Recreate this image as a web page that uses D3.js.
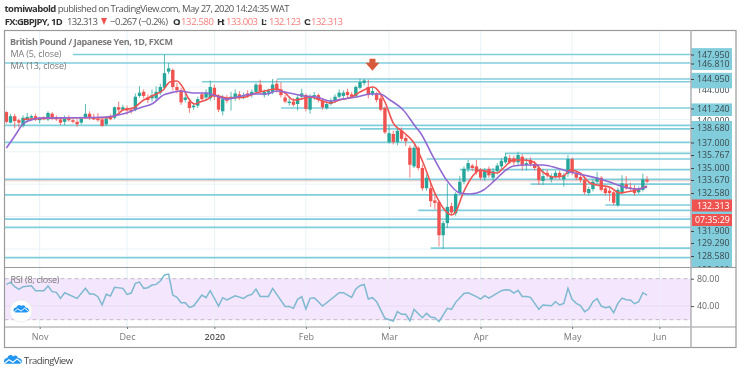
<!DOCTYPE html>
<html><head><meta charset="utf-8">
<script src="https://cdn.jsdelivr.net/npm/d3@7"></script>
<style>
html,body{margin:0;padding:0;background:#fff}
svg{display:block;filter:blur(0.35px)}
text{font-family:"Open Sans",sans-serif}
</style></head><body><svg id="c" width="740" height="373"></svg>
<script>
const opens=[140.9,139.6,140.4,139.9,139.2,139.9,140.2,140.4,139.9,140.2,140.0,140.7,140.2,140.0,139.7,140.1,139.9,139.7,139.6,140.3,140.7,140.2,140.1,140.0,139.4,140.2,140.2,141.5,141.2,141.4,141.2,
141.2,142.9,143.4,142.7,142.6,142.6,143.3,143.9,145.9,146.1,144.0,143.6,142.4,142.2,141.5,141.7,143.1,142.7,142.6,143.9,142.8,141.0,142.6,142.6,142.6,143.1,142.9,143.2,143.0,143.4,144.3,143.0,143.3,143.4,144.4,143.7,142.7,142.1,142.2,141.9,142.8,143.0,141.2,142.9,143.0,142.3,141.4,141.9,142.3,142.8,142.9,143.4,143.1,142.9,143.9,144.5,144.0,
143.1,143.2,142.6,141.4,137.2,138.2,137.2,138.6,137.7,136.5,134.2,136.5,134.0,131.5,131.5,130.0,129.8,125.7,127.2,129.3,128.4,130.9,132.3,133.9,134.3,134.2,133.7,132.8,133.9,132.8,133.6,134.2,134.7,135.2,135.2,134.7,135.4,134.4,135.0,134.5,134.0,132.4,133.4,132.6,132.9,133.4,132.6,133.3,135.1,133.4,132.9,132.5,130.9,131.4,132.3,132.8,131.5,131.2,131.0,129.4,131.0,132.0,131.6,131.5,131.0,131.3,132.58];
const highs=[141.0,140.7,140.7,140.1,140.5,140.8,140.6,140.7,140.3,140.4,141.0,140.9,140.5,140.3,140.5,140.5,140.1,140.0,140.3,141.9,141.0,140.7,140.8,140.3,140.4,140.6,141.6,142.2,141.8,141.7,141.5,
143.2,144.1,143.7,143.1,143.7,144.1,144.4,148.0,146.96,146.3,144.5,143.9,143.3,142.6,142.0,142.8,143.4,143.7,144.8,144.3,143.1,143.0,143.0,143.4,143.7,143.5,143.3,143.6,143.7,144.5,144.9,143.7,143.8,145.0,144.9,144.6,143.0,142.7,142.6,143.0,143.8,143.2,143.1,143.4,143.2,142.6,142.2,142.6,143.1,143.7,143.6,143.8,143.4,144.2,145.0,145.0,144.9,
144.0,143.4,143.0,141.6,139.3,138.6,139.0,139.0,138.0,136.8,136.8,136.7,134.4,133.2,132.1,131.0,130.0,127.5,132.1,129.7,131.0,133.0,134.2,135.0,134.5,135.0,134.0,134.0,134.2,134.0,134.6,135.2,135.9,135.6,135.5,136.0,135.7,135.2,135.3,134.9,134.3,133.9,133.8,133.3,133.7,133.7,133.4,135.6,135.3,133.7,133.2,132.7,131.7,132.6,133.5,133.0,131.8,131.6,131.2,131.6,133.1,133.0,132.2,131.9,131.7,133.3,133.003];
const lows=[139.5,139.5,138.9,139.0,139.0,139.7,140.0,139.8,139.5,139.9,139.8,139.9,139.8,139.3,139.3,139.7,139.5,139.1,139.4,140.1,139.9,139.9,139.7,139.1,139.2,139.9,140.0,140.9,141.0,140.6,140.7,
141.0,142.7,142.6,142.0,142.2,142.3,143.0,143.7,145.6,143.6,143.2,141.8,142.1,140.8,141.2,141.4,142.2,142.3,142.3,142.4,140.9,140.5,142.0,141.1,142.3,142.4,142.5,142.7,142.7,143.1,143.1,142.7,142.9,143.1,143.3,142.7,142.0,141.7,141.6,141.1,142.5,141.0,140.7,142.4,142.1,141.2,141.2,141.7,142.0,142.6,142.6,142.7,142.6,142.7,143.7,144.2,142.6,
142.9,142.1,141.0,138.2,137.0,136.9,136.8,137.3,136.7,132.8,134.0,133.7,131.2,131.2,129.2,128.9,124.3,124.0,126.6,128.2,128.1,130.7,132.0,133.5,133.6,133.2,132.5,132.4,132.8,132.3,133.2,133.9,134.5,134.5,134.3,134.2,133.7,133.7,134.2,133.7,131.9,131.9,132.8,132.2,132.7,132.6,131.7,132.9,133.1,132.5,132.2,130.7,130.6,131.1,132.0,131.1,130.6,129.9,129.4,129.2,130.8,131.3,131.2,130.6,130.8,131.1,132.123];
const closes=[139.7,140.4,139.8,139.6,140.2,140.3,140.4,140.0,140.1,140.1,140.8,140.2,140.0,139.6,140.1,139.9,139.7,139.4,140.1,140.7,140.2,140.0,139.9,139.2,140.1,140.1,141.5,141.2,141.5,141.1,141.0,
142.8,143.3,142.9,142.4,143.0,143.4,144.0,145.7,146.3,144.0,143.6,142.1,142.7,141.4,141.7,142.5,142.5,143.3,144.0,142.8,141.2,142.5,142.3,142.8,143.2,142.7,143.0,142.9,143.4,144.3,143.5,143.4,143.5,144.3,143.6,143.0,142.2,142.2,141.8,142.7,143.2,141.3,142.9,143.0,142.4,141.5,141.9,142.3,142.8,143.3,143.3,143.0,142.8,144.0,144.6,144.8,143.0,
143.5,142.4,141.2,138.4,138.3,137.2,138.6,137.6,137.3,134.4,136.5,134.0,131.5,132.8,129.9,129.7,125.7,127.2,129.2,128.5,130.8,132.3,133.9,134.6,134.0,133.5,132.8,133.7,133.1,133.6,134.3,134.9,135.4,134.7,134.7,135.6,134.4,134.6,134.5,134.0,132.5,133.0,133.1,132.9,133.4,132.9,133.1,135.1,133.4,132.8,132.5,131.0,131.4,132.3,132.8,131.3,130.9,130.9,129.7,131.3,132.1,131.5,131.5,130.9,131.4,132.6,132.313];

const ma5Bars=[4,8,15,24,26.5,28,30.5,33,35,37.7,39.3,41,42.5,43.7,45.3,46.5,48,50,53,57,60,62,65,67,69,71,73,76,78,80,83,85,87,88.2,89.8,91,93,95.4,98,100.2,103,105,107,108,109.8,112.3,113.9,116,118,119.5,121.9,124.3,126.7,129,131.5,133.9,135.5,137.9,140.3,141.9,145,147.5,149,151.5,154];
const ma5Values=[140.0,140.1,140.2,140.2,140.54,141.16,141.41,142.39,142.89,143.63,144.62,144.74,143.88,142.64,141.9,142.15,142.39,143.0,142.64,142.7,143.26,143.5,143.75,143.26,142.39,142.52,142.76,142.27,142.02,142.39,142.76,143.38,143.88,144.0,143.26,142.15,139.55,138.44,137.09,134.62,130.91,129.06,128.2,128.57,130.91,133.14,133.75,133.5,133.38,134.0,134.99,134.99,134.74,133.5,132.89,133.01,133.75,133.38,132.15,131.9,131.65,130.91,131.04,131.28,131.78];
const ma13Bars=[0,2,4,6,8,15,24,25.7,28.9,32,35.3,37.7,39.3,41.7,45,48,50.5,53,55.4,59.4,62.6,65,68,71.4,74.6,77.8,81,84.2,87.4,89.8,92.2,95.4,98.6,99.4,102.6,105.8,109,111.5,114.7,117,119.5,121.9,125,129,132.3,135.5,138.7,141.9,145,148.3,151.5,154];
const ma13Values=[136.47,137.95,139.43,139.93,140.17,140.2,140.3,140.42,140.79,141.41,142.0,143.0,143.26,143.5,143.26,143.26,142.89,142.5,142.76,143.13,143.13,143.5,143.26,142.89,142.76,142.27,142.52,142.76,143.13,143.13,142.39,141.16,138.94,138.44,135.36,132.52,130.91,130.79,131.28,132.27,133.5,134.25,134.37,134.37,134.0,133.5,133.14,132.77,132.27,131.65,131.4,131.65];

const rsiBars=[0,1,2,3,4,6,7,9,10,11,12,13,14,17,19,20,21,22,23,24,25,26,28,29,30,31,32,33,34,35,36,37,38,39,40,41,42,43,44,45,47,48,49,51,52,53,55,57,58,59,60,61,63,64,67,68,69,70,71,72,73,74,76,80,81,83,84,85,86,87,88,89,90,91,93,94,95,96,97,98,100,101,102,103,104,106,107,108,110,111,113,114,115,116,119,120,121,122,123,124,125,126,128,129,131,132,133,134,135,136,137,138,139,140,141,142,143,144,145,146,147,148,149,150,151,152,153,154];
const rsiValues=[71.7,74.6,68.3,64.4,68.3,69.8,62.4,62.4,69.3,61,60,51.2,59.5,51.2,65.9,57.6,57.6,53.7,41.5,57.1,54.6,67.3,65.9,57.1,59,73.2,75.1,65.9,66.8,70.7,71.7,76.6,85.4,86.8,56.1,52.7,44.9,44.9,38,40,56.1,52.2,62.4,40,52.2,48.8,55.1,51.2,55.1,57.1,64.9,54.1,54.1,65.9,39.5,39.5,36.6,49.8,53.7,35.6,51.2,52.2,40,59.5,59.5,52.7,64.9,69.8,71.7,50.2,52.2,46.3,34.1,22,18,31.7,27.8,27.8,18.5,35.1,22.9,29.3,23.9,22.9,17.1,36.6,35.1,45.4,58.5,59.5,53.7,50.2,55.1,51.7,62.4,63.9,63.4,59,62.9,54.1,54.1,52.7,35.1,41.5,40.5,46.3,41.5,43.9,65.9,49.8,43.9,40.5,31.7,35.6,46.3,50.7,40,37.6,39,30.2,43.9,51.7,49.3,48.8,43.4,46.3,59.5,56.1];

const levelPrices=[148.01,146.96,144.99,144.65,141.41,139.27,138.84,137.17,135.81,135.11,133.79,132.59,132.02,130.67,129.43,128.78,127.7,126.68,124.12,122.93];
const levelStartBars=[16,0,65,47,66,0,85,0,120,101,109,0,126,0,144,99,0,0,102,0];

const priceLabels=["147.950","146.810","144.950","141.240","138.680","137.000","135.767","135.000","133.670","132.580","131.900","129.290","128.580"];
const priceLabelAt=[148.01,146.9,144.99,141.35,138.94,137.15,135.6,134.0,132.52,130.91,126.22,124.74,123.13];
const hiddenLabels=["144.000","140.000","122.000"];
const hiddenLabelAt=[143.7,139.85,121.5];
const gridPrices=[144,140,136,132,128,124];
const monthLabels=["Nov","Dec","2020","Feb","Mar","Apr","May","Jun"];
const monthBars=[8,29,50,72,92,114,136,157];
const rsiTicks=[80,40];
const lastPrice=132.313;

const TEAL="#26a69a",RED="#ef5350",LEVEL="#7fcedc",FRAME="#9a9a9a",GRID="#e9f2f6",BOX="#82cddb";
const svg=d3.select("#c");
const x=d3.scaleLinear().domain([0,154]).range([6.4,647]);
const yP=d3.scaleLinear().domain([144,124]).range([87,249]);
const yR=d3.scaleLinear().domain([80,20]).range([278.7,319.7]);
const L=4.5,R=691,T=30.5,PB=267.5,RB=327,B=347.5,OR=736;

// grid
svg.append("g").selectAll("line").data(monthBars).join("line")
 .attr("x1",d=>x(d)).attr("x2",d=>x(d)).attr("y1",T).attr("y2",RB).attr("stroke",GRID);
svg.append("g").selectAll("line").data(gridPrices).join("line")
 .attr("x1",L).attr("x2",R).attr("y1",d=>yP(d)).attr("y2",d=>yP(d)).attr("stroke",GRID);

// price-axis boxes
const axisBoxes=[[148.8,146.1],[139.8,121.5]];
svg.append("g").selectAll("rect").data(axisBoxes).join("rect")
 .attr("x",R).attr("width",41).attr("y",d=>yP(d[0])).attr("height",d=>yP(d[1])-yP(d[0])).attr("fill",BOX);

// labels that sit almost fully behind neighbouring boxes
const hidden=svg.append("g").attr("transform",`translate(${R},0)`)
 .call(d3.axisRight(yP).tickValues(hiddenLabelAt).tickFormat((d,i)=>hiddenLabels[i]).tickSize(0).tickPadding(6));
hidden.select(".domain").remove();
hidden.selectAll("text").attr("font-size",8.8).attr("fill","#3c4a4f").attr("font-family","Open Sans");
const covers=[[145.75,143.84],[139.8,139.3],[141.97,140.42]];
svg.append("g").selectAll("rect").data(covers).join("rect")
 .attr("x",R).attr("width",41).attr("y",d=>yP(d[0])).attr("height",d=>yP(d[1])-yP(d[0])).attr("fill",BOX);
svg.append("rect").attr("x",R+1).attr("width",OR-R-1).attr("y",PB).attr("height",11).attr("fill","#fff");

// level lines
svg.append("g").selectAll("line").data(levelPrices).join("line")
 .attr("x1",(d,i)=>levelStartBars[i]===0?L:x(levelStartBars[i])).attr("x2",R)
 .attr("y1",d=>yP(d)).attr("y2",d=>yP(d)).attr("stroke",LEVEL).attr("stroke-width",1.7);

// last price line
svg.append("line").attr("x1",L).attr("x2",R).attr("y1",yP(lastPrice)-0.8).attr("y2",yP(lastPrice)-0.8)
 .attr("stroke",RED).attr("stroke-dasharray","1 1").attr("opacity",.6);

// candles
const bars=d3.range(closes.length);
const col=i=>closes[i]>=opens[i]?TEAL:RED;
svg.append("g").selectAll("line").data(bars).join("line")
 .attr("x1",i=>x(i)).attr("x2",i=>x(i)).attr("y1",i=>yP(highs[i])).attr("y2",i=>yP(lows[i]))
 .attr("stroke",col).attr("stroke-width",1).attr("opacity",.75);
svg.append("g").selectAll("rect").data(bars).join("rect")
 .attr("x",i=>x(i)-1.7).attr("width",3.4)
 .attr("y",i=>yP(Math.max(opens[i],closes[i])))
 .attr("height",i=>Math.max(1.5,Math.abs(yP(opens[i])-yP(closes[i]))))
 .attr("fill",col);

// moving averages
const maLine=d3.line().x(d=>x(d[0])).y(d=>yP(d[1])).curve(d3.curveMonotoneX);
svg.append("path").attr("d",maLine(ma5Bars.map((b,i)=>[b,ma5Values[i]]))).attr("fill","none").attr("stroke",RED).attr("stroke-width",1.6);
svg.append("path").attr("d",maLine(ma13Bars.map((b,i)=>[b,ma13Values[i]]))).attr("fill","none").attr("stroke","#9268d2").attr("stroke-width",1.6);

// annotation arrow
const ax=x(88),ay=yP(146.0);
svg.append("path").attr("d",`M${ax-3},${ay-12}H${ax+3}V${ay-8}H${ax+7}L${ax},${ay}L${ax-7},${ay-8}H${ax-3}Z`).attr("fill","#d9593d");

// RSI pane
svg.append("rect").attr("x",L).attr("width",R-L).attr("y",yR(80)).attr("height",yR(20)-yR(80)).attr("fill","#f4e6fd");
svg.append("g").selectAll("line").data(monthBars).join("line")
 .attr("x1",d=>x(d)).attr("x2",d=>x(d)).attr("y1",PB).attr("y2",RB).attr("stroke",GRID).attr("opacity",.7);
svg.append("line").attr("x1",L).attr("x2",R).attr("y1",yR(40)).attr("y2",yR(40)).attr("stroke","#e9dcf3");
svg.append("g").selectAll("line").data([80,20]).join("line")
 .attr("x1",L).attr("x2",R).attr("y1",d=>yR(d)).attr("y2",d=>yR(d))
 .attr("stroke","#c3b8c8").attr("stroke-dasharray","4 3");
svg.append("path").attr("d",d3.line().x(d=>x(d[0])).y(d=>yR(d[1]))(rsiBars.map((b,i)=>[b,rsiValues[i]])))
 .attr("fill","none").attr("stroke","#7db9cf").attr("stroke-width",1.5);

// frame
const fr=svg.append("g").attr("stroke",FRAME).attr("fill","none");
fr.append("rect").attr("x",L).attr("y",T).attr("width",OR-L).attr("height",B-T).attr("stroke-width",1.2);
fr.append("line").attr("x1",L).attr("x2",OR).attr("y1",PB).attr("y2",PB);
fr.append("line").attr("x1",L).attr("x2",OR).attr("y1",RB).attr("y2",RB);
fr.append("line").attr("x1",R).attr("x2",R).attr("y1",T).attr("y2",B).attr("stroke","#b5b5bb").attr("stroke-width",1.6);

// price axis
const pa=svg.append("g").attr("transform",`translate(${R},0)`)
 .call(d3.axisRight(yP).tickValues(priceLabelAt).tickFormat((d,i)=>priceLabels[i]).tickSize(3).tickPadding(3));
pa.select(".domain").remove();
pa.selectAll("line").attr("stroke","#444");
pa.selectAll("text").attr("font-size",8.8).attr("fill","#3c4a4f").attr("font-family","Open Sans");

// last price & countdown
svg.append("rect").attr("x",R+1).attr("width",40).attr("y",199.5).attr("height",12).attr("fill",RED);
svg.append("text").attr("x",R+6).attr("y",208.5).attr("font-size",8.8).attr("fill","#fff").text("132.313");
svg.append("rect").attr("x",R+1).attr("width",40).attr("y",214).attr("height",12).attr("fill",RED);
svg.append("text").attr("x",R+4).attr("y",223).attr("font-size",8.8).attr("fill","#fff").text("07:35:29");

// RSI axis
const ra=svg.append("g").attr("transform",`translate(${R},0)`)
 .call(d3.axisRight(yR).tickValues(rsiTicks).tickFormat(d=>d.toFixed(2)).tickSize(3).tickPadding(3));
ra.select(".domain").remove();
ra.selectAll("line").attr("stroke","#555");
ra.selectAll("text").attr("font-size",8.8).attr("fill","#666").attr("font-family","Open Sans");

// time axis
const ta=svg.append("g").attr("transform",`translate(0,${RB})`)
 .call(d3.axisBottom(x).tickValues(monthBars).tickFormat((d,i)=>monthLabels[i]).tickSize(2).tickPadding(5));
ta.select(".domain").remove();
ta.selectAll("line").attr("stroke","#777");
ta.selectAll("text").attr("font-size",9).attr("fill","#777").attr("font-family","Open Sans");
ta.selectAll("text").filter((d,i)=>monthLabels[i]==="2020").attr("fill","#555").attr("font-weight",600);

// legends
const leg=svg.append("g").attr("fill","#7a7a7a");
leg.append("text").attr("x",10).attr("y",45).attr("font-size",9).attr("font-weight",700).attr("textLength",163).text("British Pound / Japanese Yen, 1D, FXCM");
leg.append("text").attr("x",10.5).attr("y",57).attr("font-size",9).attr("textLength",51).text("MA (5, close)");
leg.append("text").attr("x",10.5).attr("y",69).attr("font-size",9).attr("textLength",56).text("MA (13, close)");
leg.append("text").attr("x",10.5).attr("y",283).attr("font-size",9).attr("textLength",49).text("RSI (8, close)");

// header
const h=svg.append("g").attr("font-size",9.5);
const h1=h.append("text").attr("x",4.5).attr("y",12).attr("fill","#555").attr("textLength",285);
h1.append("tspan").attr("font-weight",700).attr("fill","#333").text("tomiwabold");
h1.append("tspan").text(" published on TradingView.com, May 27, 2020 14:24:35 WAT");
const head=[["FX:GBPJPY, 1D",4.7,58,700,"#333"],["132.313",67,31,400,"#555"],["\u22120.267 (\u22120.2%)",110,58,400,"#555"],["O:",173,7,700,"#333"],["132.580",181,33,400,"#f47c7a"],["H:",217,8,700,"#333"],["133.003",226,32,400,"#f47c7a"],["L:",261,6,700,"#333"],["132.123",269,32,400,"#f47c7a"],["C:",304,7,700,"#333"],["132.313",311,32,400,"#f47c7a"]];
h.selectAll(".s").data(head).join("text").attr("x",d=>d[1]).attr("y",25).attr("textLength",d=>d[2]).attr("font-weight",d=>d[3]).attr("fill",d=>d[4]).text(d=>d[0]);
h.append("path").attr("d","M101,18H107L104,25Z").attr("fill",RED);

// logo
const cloud=(g,s)=>{g.append("path").attr("transform",s).attr("fill","#2196f3")
 .attr("d","M0,9 C0,6 2,5 4,5 C5,1 9,0 11,3 C13,1 17,2 17,5 C20,5 22,7 22,9 C22,11 20,12 18,12 H4 C1,12 0,11 0,9Z");
 g.append("path").attr("transform",s).attr("fill","none").attr("stroke","#fff").attr("stroke-width",1.4)
 .attr("d","M1,11 L6,7 L11,10 L16,6 L21,10");};
svg.append("circle").attr("cx",21).attr("cy",311).attr("r",11).attr("fill","#fff").attr("stroke","#eee");
cloud(svg.append("g"),"translate(13.5,304) scale(0.7)");
cloud(svg.append("g"),"translate(4,354) scale(0.82)");
svg.append("text").attr("x",24).attr("y",364).attr("font-size",9.5).attr("fill","#444").attr("textLength",49).text("TradingView");
</script></body></html>
